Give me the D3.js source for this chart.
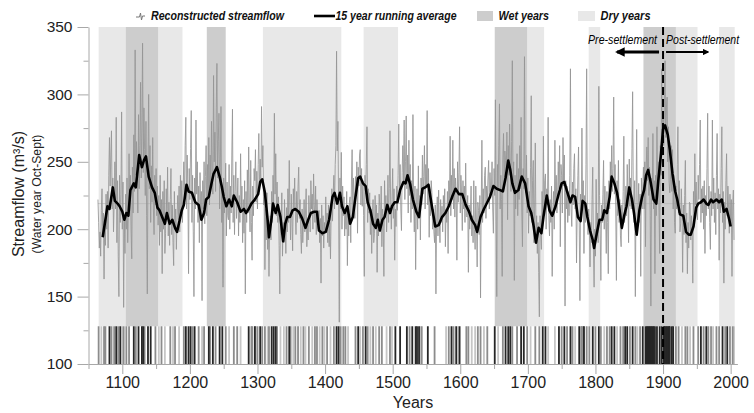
<!DOCTYPE html>
<html>
<head>
<meta charset="utf-8">
<script src="https://cdn.jsdelivr.net/npm/d3@7"></script>
<style>
  body { margin: 0; background: #fff; }
  svg { display: block; font-family: "Liberation Sans", Arial, sans-serif; }
</style>
</head>
<body>
<div id="chart"></div>
<script>
// annual reconstructed streamflow, one value per year from firstYear
const firstYear = 1064;
const flow = [
  222, 205, 186, 198, 180, 214,
  230, 196, 212, 163, 205, 188, 226, 200, 228, 186,
  240, 268, 232, 255, 273, 215, 238, 198, 220, 250,
  215, 283, 190, 236, 180, 150, 240, 205, 226, 287,
  200, 235, 142, 210, 182, 226, 200, 238, 190, 215,
  256, 220, 240, 200, 178, 246, 212, 270, 228, 333,
  240, 265, 248, 212, 285, 230, 262, 309, 238, 275,
  338, 242, 290, 259, 225, 280, 210, 152, 248, 300,
  230, 262, 205, 247, 220, 268, 215, 196, 240, 218,
  245, 210, 232, 203, 225, 188, 240, 198, 222, 167,
  228, 200, 236, 182, 197, 230, 208, 246, 195, 220,
  188, 222, 245, 196, 218, 190, 173, 228, 200, 215,
  185, 210, 225, 207, 232, 198, 240, 212, 236, 205,
  229, 250, 218, 262, 283, 215, 255, 230, 167, 245,
  222, 260, 288, 205, 240, 198, 150, 238, 215, 281,
  226, 250, 205, 232, 190, 242, 210, 228, 147, 236,
  215, 250, 204, 239, 262, 210, 248, 225, 268, 218,
  255, 232, 280, 240, 226, 314, 250, 272, 228, 290,
  323, 238, 265, 286, 215, 246, 291, 205, 232, 157,
  238, 212, 226, 249, 195, 235, 210, 207, 248, 200,
  232, 212, 255, 289, 205, 240, 196, 228, 250, 208,
  220, 238, 195, 225, 205, 256, 215, 232, 190, 222,
  197, 236, 152, 228, 205, 244, 212, 261, 220, 198,
  251, 205, 177, 232, 210, 245, 236, 259, 220, 243,
  215, 248, 271, 228, 252, 235, 291, 246, 262, 218,
  232, 170, 215, 192, 227, 185, 206, 165, 198, 210,
  192, 228, 205, 240, 218, 286, 226, 256, 210, 235,
  205, 224, 188, 152, 212, 196, 227, 180, 205, 190,
  222, 200, 182, 216, 198, 230, 205, 251, 212, 192,
  226, 208, 184, 230, 215, 238, 212, 196, 228, 205,
  232, 246, 208, 222, 196, 182, 215, 190, 205, 222,
  198, 212, 230, 187, 205, 192, 225, 210, 198, 236,
  215, 226, 200, 241, 218, 205, 232, 196, 222, 208,
  200, 214, 190, 208, 160, 218, 195, 210, 186, 205,
  198, 224, 200, 212, 190, 218, 187, 205, 178, 212,
  230, 206, 227, 240, 215, 248, 262, 332, 258, 280,
  220, 131, 238, 215, 257, 200, 232, 210, 224, 195,
  215, 200, 228, 173, 212, 195, 220, 224, 190, 235,
  259, 212, 238, 225, 208, 239, 226, 250, 197, 246,
  232, 255, 259, 218, 245, 217, 236, 210, 165, 240,
  226, 248, 276, 205, 230, 212, 227, 196, 215, 182,
  210, 222, 190, 197, 225, 200, 218, 168, 212, 195,
  226, 217, 198, 232, 187, 215, 205, 165, 236, 212,
  225, 198, 212, 240, 205, 230, 273, 218, 200, 222,
  245, 208, 230, 177, 215, 202, 232, 214, 240, 278,
  226, 248, 215, 199, 242, 262, 235, 281, 222, 250,
  284, 230, 255, 212, 266, 225, 248, 205, 236, 215,
  285, 220, 198, 232, 170, 215, 230, 200, 247, 212,
  225, 192, 238, 218, 255, 226, 239, 262, 215, 248,
  232, 288, 218, 245, 194, 230, 210, 236, 227, 200,
  215, 198, 190, 218, 152, 206, 224, 195, 229, 205,
  190, 222, 205, 217, 198, 225, 210, 230, 187, 215,
  205, 228, 182, 236, 218, 269, 210, 240, 222, 266,
  215, 245, 209, 238, 226, 177, 250, 220, 242, 276,
  212, 240, 226, 199, 236, 215, 232, 205, 249, 210,
  209, 225, 168, 218, 200, 212, 232, 195, 210, 190,
  236, 200, 185, 232, 205, 172, 220, 214, 196, 225,
  149, 215, 266, 205, 230, 212, 240, 246, 208, 232,
  220, 238, 251, 215, 242, 228, 227, 250, 215, 197,
  245, 225, 296, 212, 150, 248, 230, 262, 293, 215,
  240, 222, 165, 252, 271, 230, 258, 251, 238, 272,
  207, 262, 240, 278, 246, 228, 265, 325, 232, 250,
  162, 240, 215, 236, 256, 210, 245, 222, 262, 230,
  283, 215, 187, 245, 230, 328, 235, 227, 255, 212,
  238, 197, 228, 210, 246, 299, 205, 236, 251, 190,
  215, 264, 195, 210, 182, 205, 168, 135, 210, 196,
  185, 228, 205, 269, 212, 236, 241, 200, 230, 218,
  283, 210, 195, 222, 205, 232, 165, 215, 228, 200,
  266, 218, 240, 212, 227, 250, 230, 262, 187, 248,
  240, 212, 268, 232, 255, 143, 236, 215, 232, 205,
  228, 210, 240, 319, 215, 202, 235, 218, 245, 256,
  215, 230, 175, 212, 240, 261, 205, 147, 226, 210,
  275, 218, 236, 182, 225, 205, 248, 319, 212, 196,
  215, 200, 172, 205, 190, 222, 246, 185, 157, 200,
  180, 237, 195, 212, 190, 306, 225, 200, 162, 218,
  205, 226, 251, 200, 232, 212, 182, 228, 205, 167,
  236, 215, 250, 232, 262, 228, 245, 298, 226, 248,
  215, 162, 236, 210, 251, 205, 222, 195, 187, 218,
  200, 228, 269, 205, 215, 232, 210, 248, 226, 190,
  252, 217, 238, 215, 260, 302, 222, 205, 236, 150,
  220, 274, 195, 212, 234, 205, 226, 165, 238, 215,
  232, 246, 215, 250, 187, 245, 261, 236, 268, 225,
  246, 210, 143, 238, 222, 271, 215, 236, 167, 240,
  210, 276, 228, 250, 215, 182, 262, 240, 319, 255,
  285, 262, 300, 325, 268, 290, 298, 250, 276, 235,
  227, 237, 262, 228, 259, 215, 240, 205, 197, 232,
  215, 248, 276, 212, 236, 198, 204, 230, 212, 168,
  218, 196, 225, 251, 190, 212, 167, 205, 186, 220,
  219, 192, 210, 198, 160, 228, 205, 256, 218, 235,
  212, 207, 240, 222, 248, 281, 205, 230, 212, 232,
  200, 236, 182, 225, 210, 245, 286, 215, 232, 205,
  185, 228, 210, 281, 215, 238, 205, 227, 196, 240,
  271, 215, 230, 177, 226, 212, 245, 276, 205, 228,
  160, 220, 200, 236, 256, 210, 232, 215, 197, 226,
  205, 222, 165, 218, 229, 192
];

// 15 year running average
const avgYears = [
  1071, 1075, 1078, 1081, 1086, 1089, 1093, 1096, 1100, 1103, 1106, 1109, 1112, 1117, 1120, 1125,
  1129, 1132, 1135, 1139, 1144, 1148, 1152, 1155, 1159, 1163, 1166, 1170, 1174, 1178, 1181, 1185,
  1188, 1191, 1195, 1198, 1203, 1208, 1213, 1217, 1221, 1224, 1228, 1232, 1235, 1240, 1244, 1247,
  1250, 1254, 1258, 1262, 1265, 1270, 1275, 1280, 1283, 1287, 1291, 1296, 1301, 1304, 1307, 1311,
  1315, 1317, 1321, 1323, 1327, 1330, 1334, 1338, 1341, 1344, 1348, 1352, 1356, 1361, 1366, 1371,
  1375, 1379, 1384, 1388, 1391, 1396, 1401, 1406, 1411, 1414, 1418, 1422, 1425, 1429, 1433, 1437,
  1441, 1445, 1449, 1452, 1456, 1460, 1463, 1467, 1471, 1475, 1478, 1481, 1485, 1488, 1492, 1496,
  1499, 1503, 1507, 1511, 1516, 1519, 1522, 1526, 1530, 1535, 1539, 1544, 1548, 1553, 1558, 1563,
  1568, 1573, 1578, 1583, 1588, 1593, 1598, 1603, 1608, 1613, 1617, 1622, 1625, 1630, 1635, 1640,
  1644, 1649, 1654, 1659, 1663, 1667, 1671, 1674, 1677, 1681, 1686, 1691, 1696, 1701, 1705, 1708,
  1712, 1716, 1720, 1723, 1728, 1732, 1736, 1741, 1745, 1750, 1754, 1758, 1763, 1766, 1770, 1774,
  1778, 1781, 1785, 1788, 1792, 1796, 1798, 1802, 1806, 1810, 1813, 1817, 1821, 1824, 1828, 1832,
  1835, 1839, 1843, 1846, 1850, 1854, 1857, 1861, 1865, 1869, 1872, 1875, 1878, 1882, 1886, 1890,
  1893, 1897, 1900, 1903, 1907, 1910, 1914, 1918, 1921, 1925, 1930, 1934, 1938, 1941, 1945, 1949,
  1952, 1956, 1960, 1964, 1967, 1971, 1974, 1979, 1983, 1987, 1990, 1994, 1998, 2000
];
const avgFlow = [
  194, 207, 217, 215, 231, 221, 219, 217, 213, 207, 212, 210, 229, 234, 231, 255,
  246, 251, 254, 239, 231, 227, 216, 214, 209, 204, 212, 204, 207, 201, 198, 207,
  214, 218, 233, 228, 227, 220, 218, 207, 212, 222, 224, 234, 241, 246, 239, 232,
  224, 217, 222, 217, 225, 220, 213, 215, 212, 215, 219, 222, 226, 235, 237, 227,
  207, 194, 209, 219, 212, 218, 209, 191, 204, 209, 209, 214, 215, 213, 208, 201,
  207, 212, 213, 213, 199, 197, 198, 207, 224, 227, 219, 227, 217, 212, 217, 204,
  209, 224, 238, 239, 234, 232, 220, 214, 204, 201, 207, 199, 207, 209, 218, 212,
  217, 220, 220, 229, 235, 234, 240, 233, 222, 213, 209, 230, 231, 233, 217, 202,
  203, 209, 212, 217, 224, 230, 226, 226, 218, 213, 207, 203, 198, 209, 215, 220,
  224, 232, 230, 229, 228, 238, 251, 244, 234, 227, 229, 239, 234, 217, 212, 204,
  190, 201, 197, 209, 225, 214, 210, 217, 225, 234, 235, 228, 220, 225, 224, 209,
  206, 221, 219, 209, 199, 192, 186, 197, 207, 207, 214, 212, 224, 239, 234, 227,
  217, 201, 211, 217, 231, 222, 212, 196, 214, 224, 229, 240, 244, 234, 222, 219,
  236, 256, 274, 277, 270, 259, 241, 228, 222, 211, 210, 198, 196, 196, 202, 216,
  219, 220, 222, 219, 218, 222, 220, 222, 220, 222, 213, 215, 207, 202
];

// shaded periods
const wetStart = [1105, 1225, 1651, 1871];
const wetEnd = [1153, 1253, 1699, 1919];
const dryStart = [1065, 1153, 1308, 1457, 1699, 1790, 1919, 1983];
const dryEnd = [1105, 1189, 1424, 1508, 1724, 1807, 1951, 2006];

// year bars at the foot of the plot, by shade
const darkYears = [1081, 1091, 1097, 1117, 1124, 1129, 1131, 1138, 1142, 1194, 1198, 1201, 1207, 1228, 1234,
  1244, 1248, 1287, 1296, 1304, 1321, 1324, 1327, 1347, 1417, 1420, 1449, 1460, 1504, 1511, 1521, 1529,
  1534, 1536, 1539, 1552, 1587, 1594, 1599, 1651, 1667, 1671, 1674, 1690, 1694, 1722, 1726, 1746, 1754,
  1763, 1776, 1783, 1796, 1805, 1824, 1828, 1844, 1847, 1855, 1870, 1874, 1876, 1877, 1879, 1880, 1882,
  1883, 1885, 1886, 1888, 1891, 1895, 1898, 1901, 1902, 1903, 1905, 1906, 1908, 1909, 1910, 1913, 1915,
  1956, 1964, 1988, 1995];
const midYears = [1065, 1073, 1075, 1084, 1088, 1094, 1102, 1106, 1110, 1120, 1133, 1149, 1158, 1171, 1178,
  1191, 1204, 1213, 1221, 1230, 1238, 1253, 1265, 1270, 1291, 1292, 1297, 1300, 1307, 1311, 1317, 1329,
  1343, 1349, 1356, 1360, 1368, 1376, 1385, 1388, 1396, 1403, 1413, 1423, 1427, 1430, 1445, 1456, 1463,
  1471, 1480, 1484, 1496, 1525, 1543, 1562, 1583, 1590, 1609, 1612, 1626, 1630, 1640, 1663, 1677, 1684,
  1699, 1711, 1717, 1750, 1758, 1766, 1779, 1780, 1782, 1787, 1791, 1800, 1808, 1817, 1821, 1837, 1841,
  1851, 1859, 1866, 1919, 1923, 1933, 1936, 1945, 1952, 1960, 1967, 1971, 1979, 1983, 1992, 1999, 2003];
const lightYears = [1069, 1100, 1154, 1163, 1175, 1184, 1218, 1258, 1275, 1315, 1334, 1339, 1353, 1364,
  1371, 1381, 1392, 1399, 1408, 1434, 1452, 1467, 1475, 1491, 1499, 1541, 1579, 1597, 1617, 1622, 1635,
  1656, 1704, 1730, 1740, 1770, 1813, 1832, 1862, 1928, 1940, 1974, 2005];

const meanFlow = 219;
const settlementYear = 1900;
const yMajor = [100, 150, 200, 250, 300, 350];
const yMinor = [125, 175, 225, 275, 325];
const xMajor = [1100, 1200, 1300, 1400, 1500, 1600, 1700, 1800, 1900, 2000];
const xMinor = [1050, 1150, 1250, 1350, 1450, 1550, 1650, 1750, 1850, 1950];

class StreamflowChart {

  constructor(_config) {
    this.config = {
      parentElement: _config.parentElement,
      containerWidth: _config.containerWidth || 754,
      containerHeight: _config.containerHeight || 413,
      plotLeft: 88.5,
      plotRight: 737.4,
      plotTop: 27,
      plotBottom: 364,
      barTop: 128
    };
    this.initVis();
  }

  initVis() {
    let vis = this;
    const c = vis.config;

    vis.svg = d3.select(c.parentElement).append('svg')
      .attr('width', c.containerWidth)
      .attr('height', c.containerHeight);

    vis.x = d3.scaleLinear().domain([1050, 2010]).range([c.plotLeft, c.plotRight]);
    vis.y = d3.scaleLinear().domain([100, 350]).range([c.plotBottom, c.plotTop]);

    vis.renderVis();
  }

  renderVis() {
    let vis = this;
    const c = vis.config;
    const x = vis.x, y = vis.y;

    // dry and wet bands
    const bands = vis.svg.append('g');
    bands.selectAll('.dry')
      .data(dryStart.map((s, i) => [s, dryEnd[i]]))
      .join('rect')
      .attr('x', d => x(d[0]))
      .attr('width', d => x(d[1]) - x(d[0]))
      .attr('y', y(350))
      .attr('height', y(c.barTop) - y(350))
      .attr('fill', '#e8e8e8');
    bands.selectAll('.wet')
      .data(wetStart.map((s, i) => [s, wetEnd[i]]))
      .join('rect')
      .attr('x', d => x(d[0]))
      .attr('width', d => x(d[1]) - x(d[0]))
      .attr('y', y(350))
      .attr('height', y(c.barTop) - y(350))
      .attr('fill', '#cdcdcd');

    // long-term mean
    vis.svg.append('line')
      .attr('x1', x(firstYear)).attr('x2', x(firstYear + flow.length))
      .attr('y1', y(meanFlow)).attr('y2', y(meanFlow))
      .attr('stroke', '#b8b8b8')
      .attr('stroke-width', 0.7);

    // annual series
    const line = d3.line()
      .x((d, i) => x(firstYear + i))
      .y(d => y(d));
    vis.svg.append('path')
      .datum(flow)
      .attr('d', line)
      .attr('fill', 'none')
      .attr('stroke', '#959595')
      .attr('stroke-width', 0.85);

    // year bars
    const barGroups = [[lightYears, '#c6c6c6'], [midYears, '#8c8c8c'], [darkYears, '#262626']];
    barGroups.forEach(([years, col]) => {
      vis.svg.append('g').selectAll('rect')
        .data(years)
        .join('rect')
        .attr('x', d => x(d) - 0.9)
        .attr('width', 1.8)
        .attr('y', y(c.barTop))
        .attr('height', y(100) - y(c.barTop))
        .attr('fill', col);
    });

    // running average
    const avgLine = d3.line()
      .x((d, i) => x(avgYears[i]))
      .y(d => y(d));
    vis.svg.append('path')
      .datum(avgFlow)
      .attr('d', avgLine)
      .attr('fill', 'none')
      .attr('stroke', '#000')
      .attr('stroke-width', 2.6)
      .attr('stroke-linejoin', 'round');

    // settlement marker
    vis.svg.append('line')
      .attr('x1', x(settlementYear)).attr('x2', x(settlementYear))
      .attr('y1', y(350)).attr('y2', y(100))
      .attr('stroke', '#000')
      .attr('stroke-width', 2)
      .attr('stroke-dasharray', '8,4');

    const defs = vis.svg.append('defs');
    defs.append('marker')
      .attr('id', 'head')
      .attr('viewBox', '0 0 10 10')
      .attr('refX', 8).attr('refY', 5)
      .attr('markerWidth', 3.2).attr('markerHeight', 3.2)
      .attr('orient', 'auto-start-reverse')
      .append('path').attr('d', 'M0,0 L10,5 L0,10 Z').attr('fill', '#000');

    const xs = x(settlementYear);
    vis.svg.append('line')
      .attr('x1', xs - 4).attr('x2', 617).attr('y1', 52).attr('y2', 52)
      .attr('stroke', '#000').attr('stroke-width', 3)
      .attr('marker-end', 'url(#head)');
    vis.svg.append('line')
      .attr('x1', xs + 3).attr('x2', 708).attr('y1', 52).attr('y2', 52)
      .attr('stroke', '#000').attr('stroke-width', 2)
      .attr('marker-end', 'url(#head)');
    vis.svg.append('text')
      .attr('x', xs - 6).attr('y', 44)
      .attr('text-anchor', 'end')
      .attr('font-size', 12.5).attr('font-style', 'italic')
      .attr('textLength', 69).attr('lengthAdjust', 'spacingAndGlyphs')
      .text('Pre-settlement');
    vis.svg.append('text')
      .attr('x', xs + 3).attr('y', 44)
      .attr('font-size', 12.5).attr('font-style', 'italic')
      .attr('textLength', 73).attr('lengthAdjust', 'spacingAndGlyphs')
      .text('Post-settlement');

    // axes
    const yAxis = vis.svg.append('g')
      .attr('transform', `translate(${c.plotLeft},0)`)
      .call(d3.axisLeft(y).tickValues(yMajor).tickSize(11).tickPadding(5).tickSizeOuter(0));
    vis.svg.append('g')
      .attr('transform', `translate(${c.plotLeft},0)`)
      .call(d3.axisLeft(y).tickValues(yMinor).tickSize(5).tickFormat('').tickSizeOuter(0))
      .select('.domain').remove();
    const xAxis = vis.svg.append('g')
      .attr('transform', `translate(0,${c.plotBottom})`)
      .call(d3.axisBottom(x).tickValues(xMajor).tickSize(10).tickPadding(3).tickFormat(d3.format('d')).tickSizeOuter(0));
    vis.svg.append('g')
      .attr('transform', `translate(0,${c.plotBottom})`)
      .call(d3.axisBottom(x).tickValues(xMinor).tickSize(5).tickFormat('').tickSizeOuter(0))
      .select('.domain').remove();

    vis.svg.selectAll('.domain, .tick line').attr('stroke', '#a8a8a8');
    yAxis.selectAll('text').attr('font-size', 15.5);
    xAxis.selectAll('text').attr('font-size', 16);
    [yAxis, xAxis].forEach(a => a.selectAll('text')
      .attr('font-family', '"Liberation Sans", Arial, sans-serif')
      .attr('fill', '#222'));

    vis.svg.append('text')
      .attr('x', 413).attr('y', 408)
      .attr('text-anchor', 'middle')
      .attr('font-size', 16).attr('fill', '#222')
      .text('Years');

    const yTitle = vis.svg.append('g').attr('transform', 'translate(0,194) rotate(-90)');
    yTitle.append('text')
      .attr('x', 0).attr('y', 24)
      .attr('text-anchor', 'middle')
      .attr('font-size', 16).attr('fill', '#222')
      .text('Streamflow (m³/s)');
    yTitle.append('text')
      .attr('x', 0).attr('y', 40.5)
      .attr('text-anchor', 'middle')
      .attr('font-size', 12.2).attr('fill', '#222')
      .text('(Water year Oct-Sept)');

    // legend
    const lg = vis.svg.append('g')
      .attr('font-size', 12.5).attr('font-weight', 'bold').attr('font-style', 'italic').attr('fill', '#111');
    lg.append('polyline')
      .attr('points', '136,17 139.5,17 140.5,13 141.5,20 142.5,16 145,16')
      .attr('fill', 'none').attr('stroke', '#777').attr('stroke-width', 1);
    lg.append('text').attr('x', 151).attr('y', 20)
      .attr('textLength', 133).attr('lengthAdjust', 'spacingAndGlyphs')
      .text('Reconstructed streamflow');
    lg.append('line')
      .attr('x1', 314).attr('x2', 335).attr('y1', 16).attr('y2', 16)
      .attr('stroke', '#000').attr('stroke-width', 2.6);
    lg.append('text').attr('x', 335.5).attr('y', 20)
      .attr('textLength', 121).attr('lengthAdjust', 'spacingAndGlyphs')
      .text('15 year running average');
    lg.append('rect').attr('x', 477).attr('y', 11).attr('width', 16).attr('height', 10).attr('fill', '#cdcdcd');
    lg.append('text').attr('x', 498.5).attr('y', 20)
      .attr('textLength', 50.5).attr('lengthAdjust', 'spacingAndGlyphs')
      .text('Wet years');
    lg.append('rect').attr('x', 578).attr('y', 11).attr('width', 17).attr('height', 10).attr('fill', '#e8e8e8');
    lg.append('text').attr('x', 600.5).attr('y', 20)
      .attr('textLength', 50).attr('lengthAdjust', 'spacingAndGlyphs')
      .text('Dry years');
  }
}

new StreamflowChart({ parentElement: '#chart' });
</script>
</body>
</html>
